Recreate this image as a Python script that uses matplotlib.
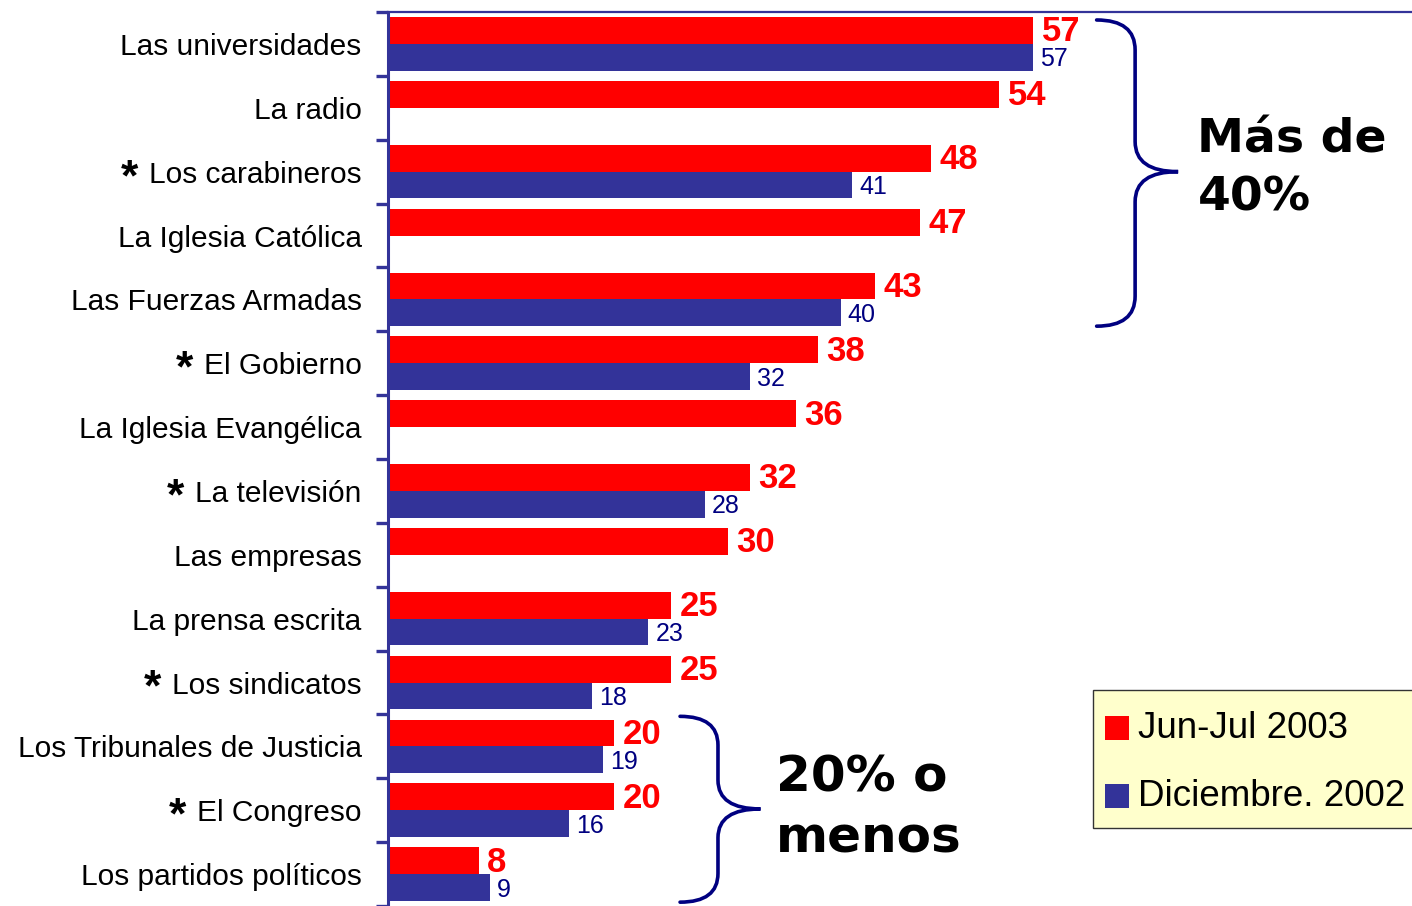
import matplotlib
matplotlib.use("Agg")
import matplotlib.pyplot as plt
from matplotlib.path import Path
from matplotlib.patches import PathPatch, Rectangle

plt.rcParams['font.family'] = ['Liberation Sans', 'DejaVu Sans']

categories = ["Las universidades", "La radio", "Los carabineros", "La Iglesia Católica",
              "Las Fuerzas Armadas", "El Gobierno", "La Iglesia Evangélica", "La televisión",
              "Las empresas", "La prensa escrita", "Los sindicatos",
              "Los Tribunales de Justicia", "El Congreso", "Los partidos políticos"]
starred = [False, False, True, False, False, True, False, True, False, False, True, False, True, False]
jun_jul_2003 = [57, 54, 48, 47, 43, 38, 36, 32, 30, 25, 25, 20, 20, 8]
dic_2002 = [57, None, 41, None, 40, 32, None, 28, None, 23, 18, 19, 16, 9]
series_labels = ["Jun-Jul 2003", "Diciembre. 2002"]

RED = '#FF0000'
BLUE = '#333399'
NAVY = '#000080'
W, H = 1412, 906

fig = plt.figure(figsize=(W / 100, H / 100), dpi=100)
ax = fig.add_axes([388 / W, 0, 1024 / W, 1 - 12 / H])

n = len(categories)
bh = 0.42
for i in range(n):
    ax.barh(i - bh / 2, jun_jul_2003[i], height=bh, color=RED)
    ax.annotate(str(jun_jul_2003[i]), (jun_jul_2003[i], i - bh / 2), xytext=(6, -1),
                textcoords='offset points', ha='left', va='center',
                color=RED, fontsize=25, fontweight='bold')
    if dic_2002[i] is not None:
        ax.barh(i + bh / 2, dic_2002[i], height=bh, color=BLUE)
        ax.annotate(str(dic_2002[i]), (dic_2002[i], i + bh / 2), xytext=(5, -1.5),
                    textcoords='offset points', ha='left', va='center',
                    color=NAVY, fontsize=18)

ax.set_xlim(0, 1024 / 11.32)
ax.set_ylim((H - 44) / 64, -0.5)

ax.set_yticks(range(n))
ax.set_yticklabels(categories, fontsize=21.5)
ax.set_yticks([i - 0.5 for i in range(n + 1)], minor=True)
ax.tick_params(axis='y', which='major', length=0, pad=19)
ax.tick_params(axis='y', which='minor', length=8.6, width=2.4, color=BLUE, direction='out')
ax.set_xticks([])

for s in ['right', 'bottom']:
    ax.spines[s].set_visible(False)
ax.spines['left'].set_color(BLUE)
ax.spines['left'].set_linewidth(2.2)
ax.spines['top'].set_color(BLUE)
ax.spines['top'].set_linewidth(1.6)

# asterisks in front of some labels
for lab, star in zip(ax.get_yticklabels(), starred):
    if star:
        ax.annotate("*", xy=(0, 0), xycoords=lab, xytext=(-8, -1), textcoords='offset points',
                    ha='right', va='baseline', fontsize=32, fontweight='bold', color='black')


def brace(x0, xs, xt, ytop, ybot, ytip, r):
    verts = [(x0, ytop), (xs, ytop), (xs, ytop + r),
             (xs, ytip - r), (xs, ytip), (xt, ytip),
             (xs, ytip), (xs, ytip + r),
             (xs, ybot - r), (xs, ybot), (x0, ybot)]
    codes = [Path.MOVETO, Path.CURVE3, Path.CURVE3,
             Path.LINETO, Path.CURVE3, Path.CURVE3,
             Path.CURVE3, Path.CURVE3,
             Path.LINETO, Path.CURVE3, Path.CURVE3]
    ax.add_patch(PathPatch(Path(verts, codes), fill=False, edgecolor=NAVY,
                           linewidth=2.6, clip_on=False, capstyle='round'))


brace(62.6, 66.0, 69.8, -0.375, 4.42, 2.0, 0.47)
brace(25.8, 29.15, 32.9, 10.53, 13.44, 11.98, 0.45)

big = dict(fontweight='bold', family='DejaVu Sans', ha='left', va='baseline')
ax.text(71.5, 1.70, "Más de", fontsize=34, **big)
ax.text(71.5, 2.61, "40%", fontsize=34, **big)
ax.text(34.3, 11.70, "20% o", fontsize=36, **big)
ax.text(34.3, 12.67, "menos", fontsize=36, **big)

# legend box
fig.patches.append(Rectangle((1093 / W, 1 - 828 / H), 330 / W, 138 / H,
                             transform=fig.transFigure, facecolor='#FFFFCC',
                             edgecolor='#333333', linewidth=1.0, zorder=5))
for k, (lab, col) in enumerate(zip(series_labels, [RED, BLUE])):
    top = 716 + 68 * k
    fig.patches.append(Rectangle((1105 / W, 1 - (top + 24) / H), 24 / W, 24 / H,
                                 transform=fig.transFigure, facecolor=col,
                                 edgecolor='none', zorder=6))
    fig.text(1138 / W, 1 - (top + 22) / H, lab, fontsize=26.5, ha='left',
             va='baseline', zorder=6)

fig.savefig("out.png", dpi=100)
